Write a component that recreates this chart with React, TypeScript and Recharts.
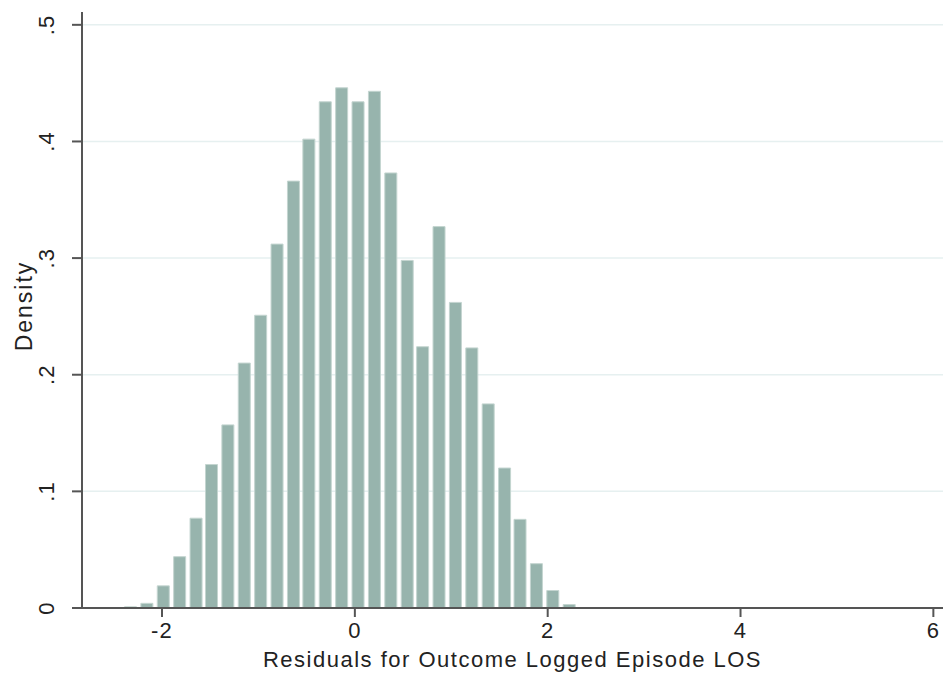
import { BarChart, Bar, XAxis, YAxis, CartesianGrid } from 'recharts'

// bin midpoints of the residual histogram and their density
const binMids = [
  -2.33, -2.16, -1.99, -1.82, -1.65, -1.49, -1.32, -1.15, -0.98, -0.81,
  -0.64, -0.48, -0.31, -0.14, 0.03, 0.2, 0.37, 0.54, 0.7, 0.87,
  1.04, 1.21, 1.38, 1.55, 1.71, 1.88, 2.05, 2.22,
]
const density = [
  0.001, 0.004, 0.019, 0.044, 0.077, 0.123, 0.157, 0.21, 0.251, 0.312,
  0.366, 0.402, 0.434, 0.446, 0.434, 0.443, 0.373, 0.298, 0.224, 0.327,
  0.262, 0.223, 0.175, 0.12, 0.076, 0.038, 0.015, 0.003,
]
const xTicks = [-2, 0, 2, 4, 6]
const yTicks = [0, 0.1, 0.2, 0.3, 0.4, 0.5]
const xDomain: [number, number] = [-2.83, 6.1]
const yDomain: [number, number] = [0, 0.511]
const binWidth = 0.1684

const data = binMids.map((x, i) => ({ x, d: density[i] }))

const W = 943
const H = 676
const margin = { top: 12, right: 0, bottom: 0, left: 8 }
const yAxisW = 74
const plotW = W - margin.left - margin.right - yAxisW
const pxPerUnit = plotW / (xDomain[1] - xDomain[0])

const font = '"Liberation Sans", Arial, sans-serif'
const ink = '#222'
const axisCol = '#555'

const fmtY = (v: number) => (v === 0 ? '0' : String(v).replace(/^0/, ''))

function XTick({ x, y, payload }: any) {
  return (
    <text x={x} y={y + 21} textAnchor="middle" fill={ink} fontSize={22} fontFamily={font} letterSpacing={1.2}>
      {payload.value}
    </text>
  )
}

function YTick({ y, payload }: any) {
  return (
    <text
      transform={`translate(54, ${y}) rotate(-90)`}
      textAnchor="middle"
      fill={ink}
      fontSize={22}
      fontFamily={font}
      letterSpacing={1.2}
    >
      {fmtY(payload.value)}
    </text>
  )
}

export default function App() {
  return (
    <div style={{ width: W, height: H, background: '#fff' }}>
      <style>{'body{margin:0}'}</style>
      <BarChart width={W} height={H} data={data} margin={margin}>
        <CartesianGrid vertical={false} stroke="#e6f0f0" strokeWidth={1.5} horizontalValues={yTicks.slice(1)} />
        <XAxis
          dataKey="x"
          type="number"
          domain={xDomain}
          ticks={xTicks}
          allowDataOverflow
          height={68}
          tickSize={9}
          tickMargin={0}
          stroke={axisCol}
          strokeWidth={2}
          tick={<XTick />}
          label={{
            value: 'Residuals for Outcome Logged Episode LOS',
            position: 'insideBottom',
            offset: 9,
            fill: ink,
            fontSize: 22,
            fontFamily: font,
            letterSpacing: 1.5,
          }}
        />
        <YAxis
          type="number"
          domain={yDomain}
          ticks={yTicks}
          allowDataOverflow
          width={yAxisW}
          tickSize={10}
          stroke={axisCol}
          strokeWidth={2}
          tick={<YTick />}
          label={{
            content: ({ viewBox }: any) => (
              <text
                transform={`translate(${viewBox.x + 24}, ${viewBox.y + viewBox.height / 2 - 4}) rotate(-90)`}
                textAnchor="middle"
                fill={ink}
                fontSize={23}
                fontFamily={font}
                letterSpacing={2}
              >
                Density
              </text>
            ),
          }}
        />
        <Bar
          dataKey="d"
          fill="#97b4ad"
          stroke="#c4d5d0"
          strokeWidth={1}
          barSize={Math.round(binWidth * pxPerUnit * 0.74)}
          isAnimationActive={false}
        />
      </BarChart>
    </div>
  )
}
